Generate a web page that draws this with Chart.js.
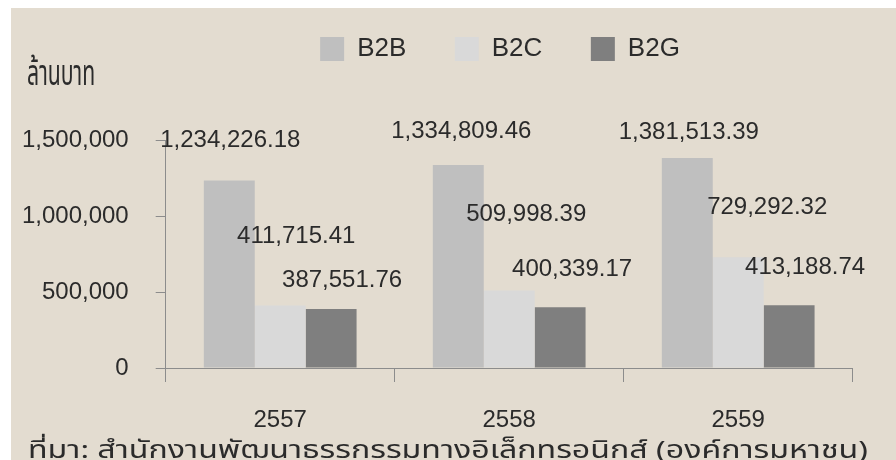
<!DOCTYPE html>
<html>
<head>
<meta charset="utf-8">
<script src="https://cdn.jsdelivr.net/npm/chart.js@4/dist/chart.umd.min.js"></script>
<style>
  html, body { margin: 0; padding: 0; background: #fff; width: 896px; height: 460px; overflow: hidden; }
  #panel { position: absolute; left: 11px; top: 8px; width: 885px; height: 452px; background: #e3dcd0; overflow: hidden; }
  #chart { position: absolute; left: 0; top: 0; }
  .note { position: absolute; color: #2b2b2b; white-space: nowrap; transform-origin: 0 0;
          font-family: "Noto Sans Thai", "Loma", "Garuda", "Tlwg Typo", "Norasi", "Noto Sans", sans-serif; }
</style>
</head>
<body>
<div id="panel">
  <canvas id="chart" width="885" height="452"></canvas>
  <div class="note" id="unit" style="left:16px; top:39px; font-size:36px; transform:scaleX(0.59);">ล้านบาท</div>
  <div class="note" id="source" style="left:17px; top:425px; font-size:24px; transform:scaleX(1.34);">ที่มา: สำนักงานพัฒนาธรรกรรมทางอิเล็กทรอนิกส์ (องค์การมหาชน)</div>
</div>
<script>
// values (million baht)
const years = ['2557', '2558', '2559'];
const b2b = [1234226.18, 1334809.46, 1381513.39];
const b2c = [411715.41, 509998.39, 729292.32];
const b2g = [387551.76, 400339.17, 413188.74];
const yTicks = [0, 500000, 1000000, 1500000];

// where each value label sits relative to the top of its bar (dx, dy)
const labelShift = [
  [[1, -40], [3, -34], [1.5, -26]],
  [[16, -69], [17, -76], [29, -50]],
  [[11, -29], [12, -38], [16, -38]]
];

const numFont = '"Liberation Sans", Arial, sans-serif';
const textColor = '#2b2b2b';
const axisColor = '#8c8c8c';

const fmt = v => v.toLocaleString('en-US', { minimumFractionDigits: 2, maximumFractionDigits: 2 });

const valueLabels = {
  id: 'valueLabels',
  afterDatasetsDraw(chart) {
    const ctx = chart.ctx;
    ctx.save();
    ctx.font = '24px ' + numFont;
    ctx.fillStyle = textColor;
    ctx.textAlign = 'center';
    ctx.textBaseline = 'middle';
    chart.data.datasets.forEach((ds, i) => {
      chart.getDatasetMeta(i).data.forEach((bar, j) => {
        const s = labelShift[i][j];
        ctx.fillText(fmt(ds.data[j]), bar.x + s[0], bar.y + s[1]);
      });
    });
    ctx.restore();
  }
};

// empty axes used only as spacers so the plot area lands where the original has it
const spacer = (pos, size) => ({
  type: 'category',
  position: pos,
  grid: { display: false },
  border: { display: false },
  ticks: { display: false },
  afterFit(s) { if (pos === 'top') s.height = size; else s.width = size; }
});

const barSet = (label, data, color) => ({
  label, data, backgroundColor: color, borderWidth: 0, xAxisID: 'x', yAxisID: 'y'
});

new Chart(document.getElementById('chart'), {
  type: 'bar',
  data: {
    labels: years,
    datasets: [
      barSet('B2B', b2b, '#bfbfbf'),
      barSet('B2C', b2c, '#d9d9d9'),
      barSet('B2G', b2g, '#7f7f7f')
    ]
  },
  options: {
    responsive: false,
    animation: false,
    devicePixelRatio: 1,
    categoryPercentage: 0.667,
    barPercentage: 1,
    layout: { padding: { left: 0, right: -93, top: -20.5, bottom: 0 } },
    plugins: {
      tooltip: { enabled: false },
      legend: {
        position: 'top',
        labels: {
          boxWidth: 24,
          boxHeight: 24,
          padding: 48.5,
          color: textColor,
          font: { family: numFont, size: 26 }
        }
      }
    },
    scales: {
      x: {
        grid: { offset: true, drawOnChartArea: false, drawTicks: true, tickLength: 14, color: axisColor },
        border: { color: axisColor },
        ticks: { padding: 24, color: textColor, font: { family: numFont, size: 24 } },
        afterFit(s) { s.height = 92; }
      },
      xTop: spacer('top', 68),
      yRight: spacer('right', 136.3),
      y: {
        min: 0,
        max: 1500000,
        afterBuildTicks(s) { s.ticks = yTicks.map(v => ({ value: v })); },
        ticks: {
          padding: 27,
          color: textColor,
          font: { family: numFont, size: 24 },
          callback: v => v.toLocaleString('en-US')
        },
        grid: { drawOnChartArea: false, tickLength: 10, color: axisColor },
        border: { color: axisColor },
        afterFit(s) { s.width = 154.7; }
      }
    }
  },
  plugins: [valueLabels]
});
</script>
</body>
</html>
